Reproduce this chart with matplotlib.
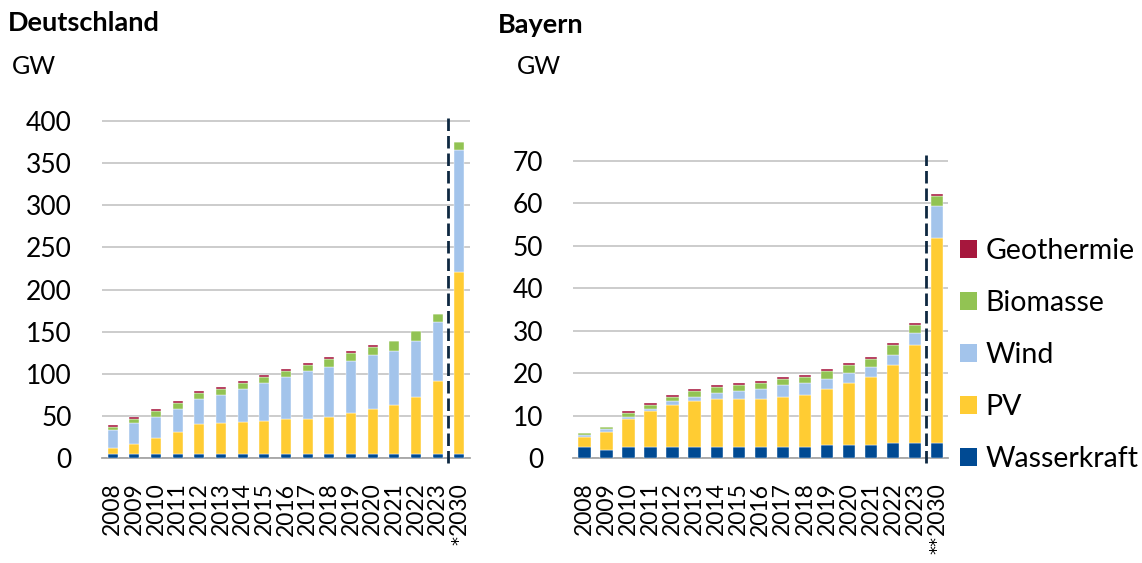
import matplotlib
matplotlib.use("Agg")
import matplotlib.pyplot as plt
from matplotlib.patches import Patch
from matplotlib.transforms import blended_transform_factory
import numpy as np

plt.rcParams['font.family'] = ['Lato', 'DejaVu Sans']

labels_de = ['2008', '2009', '2010', '2011', '2012', '2013', '2014', '2015', '2016',
             '2017', '2018', '2019', '2020', '2021', '2022', '2023', '2030']
labels_by = ['2008', '2009', '2010', '2011', '2012', '2013', '2014', '2015', '2016',
             '2017', '2018', '2019', '2020', '2021', '2022', '2023', '2030']
note_de = '*'
note_by = '**'

series_names = ['Wasserkraft', 'PV', 'Wind', 'Biomasse', 'Geothermie']
colors = ['#004A93', '#FFCC33', '#A3C4EB', '#92C353', '#A6173D']

# Deutschland (GW)
wasser_de = [5.1, 5.1, 5.1, 5.1, 5.1, 5.1, 5.1, 5.1, 5.1, 5.1, 5.1, 5.1, 5.1, 5.1, 5.1, 5.1, 5.1]
pv_de = [6.8, 11.6, 18.6, 25.7, 35.2, 37.2, 37.6, 39.5, 41.9, 41.9, 44.3, 49.0, 53.7, 58.5, 68.0, 86.5, 215.3]
wind_de = [21.8, 25.7, 25.7, 27.7, 30.0, 32.7, 39.4, 44.7, 49.4, 56.5, 58.8, 61.2, 63.6, 63.6, 65.9, 70.3, 145.3]
bio_de = [3.9, 4.3, 6.7, 6.7, 6.7, 6.8, 6.8, 6.7, 7.1, 6.7, 9.1, 9.1, 9.1, 11.4, 11.5, 9.1, 9.1]
geo_de = [2.3, 2.3, 2.3, 2.3, 2.3, 2.3, 2.3, 2.3, 2.3, 2.3, 2.3, 2.3, 2.3, 0.0, 0.0, 0.0, 0.0]

# Bayern (GW)
wasser_by = [2.6, 2.0, 2.6, 2.6, 2.6, 2.6, 2.6, 2.6, 2.6, 2.6, 2.6, 3.1, 3.1, 3.1, 3.5, 3.5, 3.5]
pv_by = [2.3, 4.3, 6.6, 8.45, 9.9, 10.9, 11.3, 11.3, 11.3, 11.8, 12.3, 13.2, 14.6, 16.0, 18.4, 23.1, 48.3]
wind_by = [0.5, 0.5, 0.4, 0.55, 1.0, 0.9, 1.5, 1.9, 2.4, 2.8, 2.8, 2.35, 2.4, 2.4, 2.4, 2.9, 7.5]
bio_by = [0.5, 0.5, 1.1, 0.9, 1.0, 1.5, 1.4, 1.4, 1.5, 1.45, 1.4, 1.85, 1.8, 1.85, 2.3, 1.9, 2.4]
geo_by = [0.0, 0.0, 0.4, 0.4, 0.4, 0.4, 0.45, 0.45, 0.45, 0.45, 0.45, 0.45, 0.45, 0.45, 0.45, 0.45, 0.45]

yticks_de = [0, 50, 100, 150, 200, 250, 300, 350, 400]
yticks_by = [0, 10, 20, 30, 40, 50, 60, 70]

W, H = 1142, 563
fig = plt.figure(figsize=(W / 100, H / 100), dpi=100)

ax1 = fig.add_axes([102 / W, 104.7 / H, 368 / W, 341.8 / H])
ax2 = fig.add_axes([573.3 / W, 104.7 / H, 375 / W, 303.1 / H])


def draw(ax, labels, data, width, yticks, ytop, dash_bottom, note):
    x = np.arange(len(labels))
    bottom = np.zeros(len(labels))
    for vals, c in zip(data, colors):
        v = np.array(vals)
        ax.bar(x, v, width, bottom=bottom, color=c, edgecolor='white', linewidth=0.3, zorder=3)
        bottom += v
    ax.set_xlim(-0.5, len(labels) - 0.5)
    ax.set_ylim(0, ytop)
    ax.set_yticks(yticks)
    ax.set_yticklabels([str(t) for t in yticks], fontsize=19)
    ax.set_xticks(x)
    ax.set_xticklabels(labels, rotation=90, fontsize=16.5, va='top', ha='center')
    ax.tick_params(axis='both', length=0)
    ax.tick_params(axis='y', pad=21.6)
    ax.tick_params(axis='x', pad=17.5)
    for s in ['top', 'right', 'left']:
        ax.spines[s].set_visible(False)
    ax.spines['bottom'].set_color('#A6A6A6')
    ax.spines['bottom'].set_linewidth(1.3)
    ax.yaxis.grid(True, color='#C8C8C8', linewidth=1.3, zorder=0)
    ax.set_axisbelow(True)
    ax.axvline(15.5, ymin=dash_bottom, ymax=1.0, color='#0E2841', linewidth=2.0,
               linestyle=(0, (4.5, 1.8)), clip_on=False, zorder=5)
    # footnote marker(s) below the last category label, stacked like the rotated label
    tr = blended_transform_factory(ax.transData, fig.transFigure)
    ax.text(x[-1], 1 - 536 / H, note, transform=tr, ha='center', va='top', rotation=90,
            fontsize=13, family='DejaVu Sans')


draw(ax1, labels_de, [wasser_de, pv_de, wind_de, bio_de, geo_de], 0.46, yticks_de, 405, -0.014, note_de)
draw(ax2, labels_by, [wasser_by, pv_by, wind_by, bio_by, geo_by], 0.56, yticks_by, 71.3, -0.0155, note_by)

fig.text(8 / W, 1 - 23 / H, 'Deutschland', fontsize=19.5, fontweight='bold', va='center', ha='left')
fig.text(12 / W, 1 - 67 / H, 'GW', fontsize=18, va='center', ha='left')
fig.text(498 / W, 1 - 25 / H, 'Bayern', fontsize=19.5, fontweight='bold', va='center', ha='left')
fig.text(517 / W, 1 - 67 / H, 'GW', fontsize=18, va='center', ha='left')

handles = [Patch(facecolor=c, edgecolor='none') for c in colors][::-1]
names = series_names[::-1]
fig.legend(handles, names, loc='center left', bbox_to_anchor=(960 / W, 1 - 355 / H),
           frameon=False, fontsize=20.5, handlelength=0.6, handleheight=0.6,
           handletextpad=0.3, labelspacing=0.92, borderaxespad=0, borderpad=0)

fig.savefig('out.png', dpi=100)
